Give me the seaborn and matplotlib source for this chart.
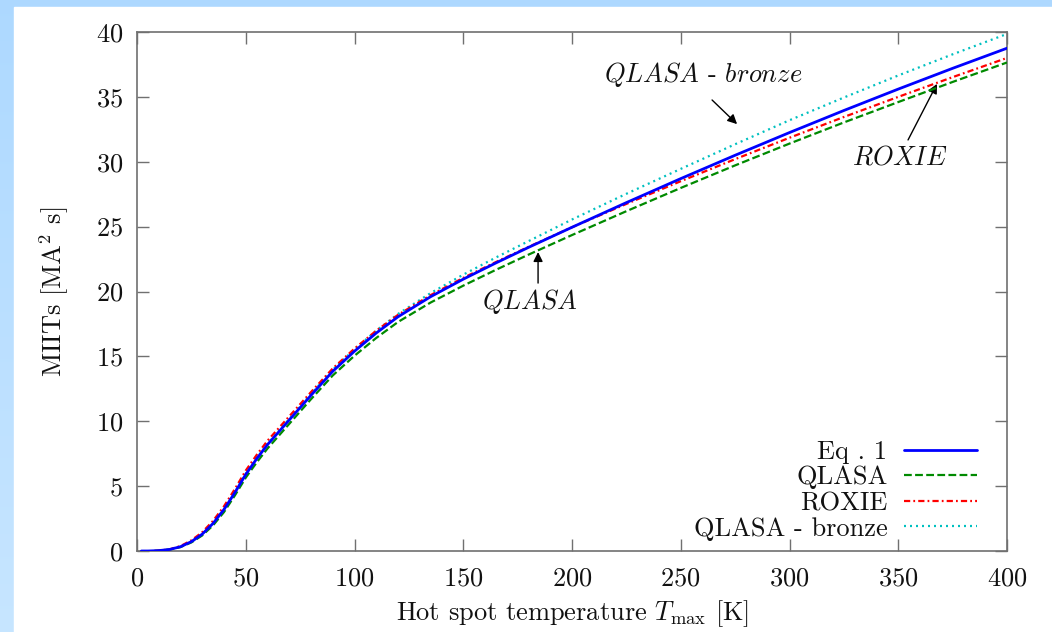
import numpy as np
import pandas as pd
import seaborn as sns
import matplotlib
matplotlib.use("Agg")
import matplotlib.pyplot as plt
from matplotlib.patches import Rectangle

# ---------------- data ----------------
temp_eq = [2, 5, 10, 15, 20, 25, 30, 35, 40, 45, 50, 55, 60, 70, 80, 90, 100, 110,
           120, 135, 150, 165, 180, 200, 225, 250, 275, 300, 325, 350, 375, 400]
miits_eq = [0.0, 0.0, 0.03, 0.12, 0.33, 0.72, 1.3, 2.13, 3.2, 4.5, 5.9, 7.1, 8.2,
            10.1, 12.0, 13.85, 15.4, 16.8, 18.05, 19.6, 20.95, 22.2, 23.4, 24.95, 26.85,
            28.7, 30.5, 32.25, 33.95, 35.6, 37.2, 38.75]

temp_other = [8, 10, 15, 20, 25, 30, 35, 40, 45, 50, 55, 60, 70, 80, 90, 100, 110,
              120, 135, 150, 165, 180, 200, 225, 250, 275, 300, 325, 350, 375, 400]
miits_qlasa = [0.0, 0.03, 0.11, 0.30, 0.66, 1.2, 1.98, 3.0, 4.28, 5.65, 6.82, 7.9,
               9.8, 11.7, 13.53, 15.05, 16.42, 17.65, 19.15, 20.45, 21.67, 22.84, 24.35,
               26.19, 27.98, 29.72, 31.4, 33.03, 34.6, 36.15, 37.65]
miits_roxie = [0.0, 0.03, 0.13, 0.38, 0.82, 1.45, 2.33, 3.45, 4.78, 6.2, 7.4, 8.5,
               10.38, 12.25, 14.07, 15.6, 16.98, 18.2, 19.72, 21.05, 22.27, 23.44, 24.95,
               26.75, 28.5, 30.2, 31.85, 33.45, 35.0, 36.52, 38.0]
miits_bronze = [0.0, 0.03, 0.12, 0.33, 0.72, 1.3, 2.14, 3.22, 4.53, 5.94, 7.14, 8.25,
                10.17, 12.1, 13.97, 15.55, 16.98, 18.27, 19.88, 21.3, 22.62, 23.88, 25.55,
                27.53, 29.45, 31.35, 33.2, 34.95, 36.65, 38.28, 39.85]

series_labels = ["Eq . 1", "QLASA", "ROXIE", "QLASA - bronze"]
x_ticks = [0, 50, 100, 150, 200, 250, 300, 350, 400]
y_ticks = [0, 5, 10, 15, 20, 25, 30, 35, 40]

# ---------------- style ----------------
sns.set_theme(style="white")
plt.rcParams["font.family"] = ["cmr10", "DejaVu Serif"]
plt.rcParams["mathtext.fontset"] = "cm"
plt.rcParams["axes.formatter.use_mathtext"] = True
plt.rcParams["axes.unicode_minus"] = False
FS = 19

fig = plt.figure(figsize=(10.52, 6.32), dpi=100)

# light-blue frame with gradient, white page
bg = fig.add_axes([0, 0, 1, 1], zorder=-5)
grad = np.linspace(0, 1, 256).reshape(-1, 1)
top_c = np.array([0.68, 0.85, 1.0])
bot_c = np.array([0.78, 0.90, 1.0])
img = top_c[None, None, :] * (1 - grad[:, :, None]) + bot_c[None, None, :] * grad[:, :, None]
bg.imshow(img, aspect="auto", extent=[0, 1, 0, 1], origin="upper")
bg.add_patch(Rectangle((14 / 1052, 0), 1, 1 - 7 / 632, color="white", zorder=2))
bg.set_xlim(0, 1)
bg.set_ylim(0, 1)
bg.axis("off")

ax = fig.add_axes([137 / 1052, 1 - 551 / 632, 870 / 1052, 519 / 632])
ax.set_facecolor("white")

df_eq = pd.DataFrame({"T": temp_eq, "M": miits_eq})
df_q = pd.DataFrame({"T": temp_other, "M": miits_qlasa})
df_r = pd.DataFrame({"T": temp_other, "M": miits_roxie})
df_b = pd.DataFrame({"T": temp_other, "M": miits_bronze})

sns.lineplot(data=df_eq, x="T", y="M", ax=ax, color="#0000ff", lw=2.0,
             label=series_labels[0], zorder=5)
sns.lineplot(data=df_q, x="T", y="M", ax=ax, color="#008a00", lw=1.6,
             label=series_labels[1], zorder=4)
sns.lineplot(data=df_r, x="T", y="M", ax=ax, color="#ff0000", lw=1.6,
             label=series_labels[2], zorder=4)
sns.lineplot(data=df_b, x="T", y="M", ax=ax, color="#00c0c0", lw=1.6,
             label=series_labels[3], zorder=3)

lines = ax.get_lines()
lines[1].set_dashes((3.5, 1.5))
lines[2].set_dashes((2.8, 1.4, 0.8, 1.4))
lines[3].set_dashes((0.9, 1.8))

ax.set_xlim(0, 400)
ax.set_ylim(0, 40)
ax.set_xticks(x_ticks)
ax.set_yticks(y_ticks)
ax.tick_params(direction="in", length=8.5, width=1, color="#707070",
               top=True, right=True, bottom=True, left=True,
               labelsize=FS, labelcolor="#111111")
ax.tick_params(axis="x", pad=11)
ax.tick_params(axis="y", pad=10)
for s in ax.spines.values():
    s.set_color("#707070")
    s.set_linewidth(1.2)
    s.set_visible(True)

ax.set_xlabel(r"Hot spot temperature $T_{\mathrm{max}}$ [K]", fontsize=FS, color="#111111", labelpad=6)
ax.set_ylabel(r"MIITs [MA$^2$ s]", fontsize=FS, color="#111111", labelpad=18)

leg = ax.legend(loc="lower right", bbox_to_anchor=((977 - 137) / 870, 0.02),
                frameon=False, markerfirst=False, fontsize=FS,
                handlelength=2.75, handletextpad=0.65, labelspacing=0.07,
                borderpad=0, borderaxespad=0)
for t in leg.get_texts():
    t.set_color("#111111")

# annotations
arrow_kw = dict(arrowstyle="-|>", color="black", lw=1.0, mutation_scale=14,
                shrinkA=0, shrinkB=0)
ax.text(260.2, 36.7, r"$QLASA$ - $bronze$", fontsize=FS, ha="center", va="center", color="#111111")
ax.annotate("", xy=(275.9, 32.9), xytext=(264.4, 34.76), arrowprops=arrow_kw)

ax.text(180.7, 19.2, r"$QLASA$", fontsize=FS, ha="center", va="center", color="#111111")
ax.annotate("", xy=(184.4, 23.04), xytext=(184.4, 20.65), arrowprops=arrow_kw)

ax.text(350.8, 30.29, r"$ROXIE$", fontsize=FS, ha="center", va="center", color="#111111")
ax.annotate("", xy=(367.8, 36.0), xytext=(354.5, 31.68), arrowprops=arrow_kw)

fig.savefig("out.png", dpi=100)
